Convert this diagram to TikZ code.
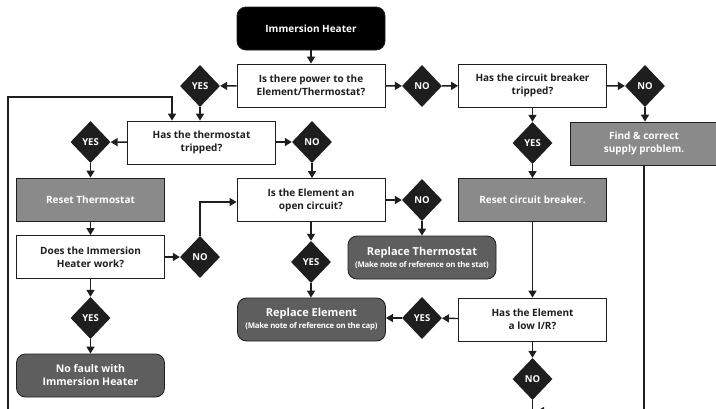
\documentclass[tikz,border=0pt]{standalone}
\usepackage{fontspec}
\setmainfont{Open Sans}
\usetikzlibrary{arrows.meta,shapes.geometric}
\definecolor{lgray}{HTML}{8A8A8A}
\definecolor{dgray}{HTML}{5E5E5E}
\definecolor{ink}{HTML}{1E1E1E}
\begin{document}
\begin{tikzpicture}[x=1pt,y=-1pt,
  base/.style={rectangle, draw=ink, line width=0.8pt, minimum width=148pt, minimum height=43pt, inner sep=0pt, align=center, font=\bfseries\fontsize{10}{13}\selectfont},
  box/.style={base, fill=white, text=ink},
  gbox/.style={base, fill=lgray, text=white},
  rbox/.style={base, fill=dgray, text=white, rounded corners=9pt},
  hbox/.style={base, fill=black, text=white, rounded corners=9pt},
  dia/.style={diamond, fill=ink, draw=none, minimum width=40pt, minimum height=42pt, inner sep=0pt, text=white, font=\bfseries\fontsize{9.5}{10}\selectfont},
  conn/.style={draw=ink, line width=1.4pt, -{Triangle[length=7pt,width=8pt]}},
  plain/.style={draw=ink, line width=1.4pt}
]
\useasboundingbox (0,0) rectangle (716,408);
% boxes
\node[hbox] (heater) at (311,28.5) {Immersion Heater};
\node[box] (power) at (311,85.5) {Is there power to the\\Element/Thermostat?};
\node[box] (cb) at (532.5,85.5) {Has the circuit breaker\\tripped?};
\node[gbox] (fix) at (644,143.5) {Find \& correct\\supply problem.};
\node[box] (thermo) at (201.5,142.5) {Has the thermostat\\tripped?};
\node[gbox] (resetT) at (90.5,199.5) {Reset Thermostat};
\node[box] (works) at (90.5,257) {Does the Immersion\\Heater work?};
\node[rbox] (nofault) at (90.5,375.5) {\fontsize{10.5}{13.5}\selectfont No fault with\\\fontsize{10.5}{13.5}\selectfont Immersion Heater};
\node[box] (open) at (311,200) {Is the Element an\\open circuit?};
\node[rbox] (replT) at (422,257.5) {\fontsize{11}{11}\selectfont Replace Thermostat\\[-1pt]{\fontsize{7.8}{8}\selectfont\addfontfeature{LetterSpace=-3} (Make note of reference on the stat)}};
\node[rbox] (replE) at (311.5,319.5) {\fontsize{11}{11}\selectfont Replace Element\\[-1pt]{\fontsize{7.8}{8}\selectfont\addfontfeature{LetterSpace=-3} (Make note of reference on the cap)}};
\node[gbox] (resetCB) at (532.5,200) {Reset circuit breaker.};
\node[box] (lowIR) at (532.5,319.5) {Has the Element\\a low I/R?};
% diamonds
\node[dia] (d1) at (200,86) {YES};
\node[dia] (d2) at (422,86) {NO};
\node[dia] (d3) at (645,86) {NO};
\node[dia] (d4) at (90.5,142) {YES};
\node[dia] (d5) at (312,142) {NO};
\node[dia] (d6) at (532.5,143) {YES};
\node[dia] (d7) at (422,200) {NO};
\node[dia] (d8) at (200,257) {NO};
\node[dia] (d9) at (311,262) {YES};
\node[dia] (d10) at (90.5,318) {YES};
\node[dia] (d11) at (422,318) {YES};
\node[dia] (d12) at (532.5,379) {NO};
% helper coordinates
\coordinate (loopB) at (8,430);
\coordinate (loopT) at (8,97);
\coordinate (loopR) at (172,97);
\coordinate (fixB) at (644,411);
\coordinate (endL) at (537,411);
\coordinate (d12B) at (532.5,430);
% connectors
\draw[conn] (heater) -- (power);
\draw[conn] (power) -- (d1);
\draw[conn] (d1.south) -- (d1.south |- thermo.north);
\draw[conn] (power) -- (d2);
\draw[conn] (d2) -- (cb);
\draw[conn] (cb) -- (d3);
\draw[conn] (d3.south) -- (d3.south |- fix.north);
\draw[conn] (cb) -- (d6);
\draw[conn] (d6) -- (resetCB);
\draw[conn] (resetCB) -- (lowIR);
\draw[conn] (lowIR) -- (d11);
\draw[conn] (d11) -- (d11 -| replE.east);
\draw[conn] (lowIR) -- (d12);
\draw[plain] (d12.south) -- (d12B);
\draw[conn] (thermo) -- (d4);
\draw[conn] (d4.south) -- (d4.south |- resetT.north);
\draw[conn] (thermo.east |- d5) -- (d5);
\draw[conn] (d5.south) -- (d5.south |- open.north);
\draw[conn] (resetT) -- (works);
\draw[conn] (works) -- (d8);
\draw[conn] (d8.north) -- (200,202) -- (open.west |- 0,202);
\draw[conn] (works) -- (d10);
\draw[conn] (d10) -- (nofault);
\draw[conn] (open) -- (d7);
\draw[conn] (d7.south) -- (d7.south |- replT.north);
\draw[conn] (open.south -| d9) -- (d9);
\draw[conn] (d9.south) -- (d9.south |- replE.north);
\draw[conn] (loopB) -- (loopT) -- (loopR) -- (loopR |- thermo.north);
\draw[conn] (fix.south) -- (fixB) -- (endL);
\end{tikzpicture}
\end{document}
